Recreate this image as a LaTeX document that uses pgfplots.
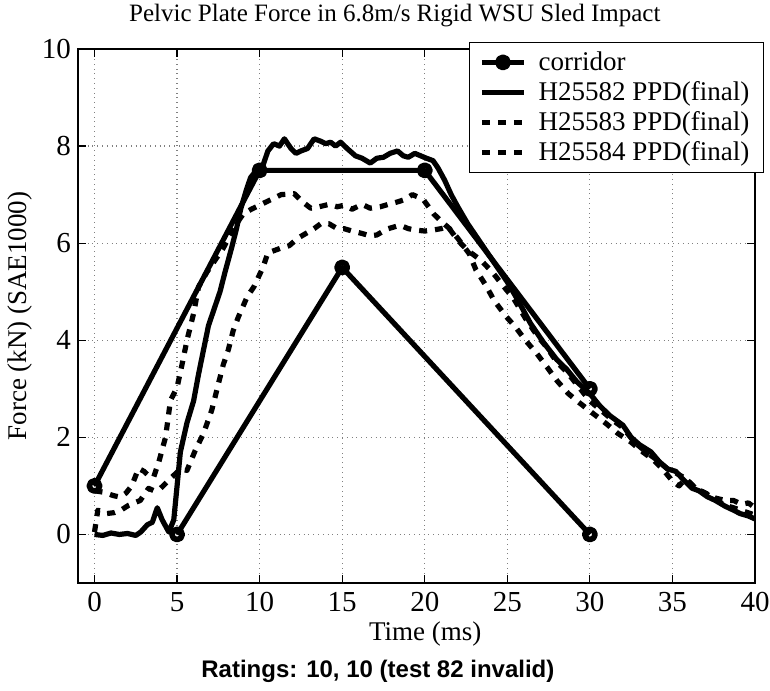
\documentclass[border=0pt]{standalone}
\usepackage{fontspec}
\setmainfont{Liberation Serif}
\newfontfamily\ratingfont{Liberation Sans}
\usepackage{pgfplots}
\pgfplotsset{compat=1.18}

\begin{document}
\begin{tikzpicture}
\useasboundingbox (-39pt,-53.5pt) rectangle (346pt,291.5pt);
\begin{axis}[
  at={(0,0)}, anchor=south west,
  scale only axis, width=338.5pt, height=267pt,
  xmin=-1, xmax=40, ymin=-1, ymax=10,
  xtick={0,5,...,40}, ytick={0,2,...,10},
  /pgf/number format/assume math mode=true,
  tick label style={font=\rmfamily\fontsize{14.5}{16}\selectfont},
  xticklabel style={anchor=base, yshift=-14pt},
  tick align=inside, major tick length=4pt,
  axis line style={line width=0.8pt}, every tick/.style={black, line width=0.6pt},
  grid=major, grid style={dotted, gray, line width=0.6pt},
  title={Pelvic Plate Force in 6.8m/s Rigid WSU Sled Impact},
  title style={at={(rel axis cs:0.468,1)}, anchor=base, yshift=7.5pt, font=\rmfamily\fontsize{12.5}{14}\selectfont},
  xlabel={Time (ms)},
  xlabel style={at={(rel axis cs:0.513,0)}, anchor=base, yshift=-28.5pt, font=\rmfamily\fontsize{13.5}{15}\selectfont},
  ylabel={Force (kN) (SAE1000)},
  ylabel style={at={(rel axis cs:-0.0857,0.5)}, anchor=center, font=\rmfamily\fontsize{13.5}{15}\selectfont},
  legend style={at={(rel axis cs:1.013,1.013)}, anchor=north east, draw=black, line width=0.5pt,
    fill=white, font=\rmfamily\fontsize{13.5}{15}\selectfont, row sep=0pt, column sep=4pt,
    inner xsep=5pt, inner ysep=2.5pt},
  legend cell align=left,
  legend image code/.code={\draw[mark repeat=2, mark phase=2, #1] plot coordinates {(0pt,0pt) (10.5pt,0pt) (21pt,0pt)};},
  every axis plot/.append style={black, line width=2.6pt, line join=round},
]
% corridor
\addplot[black, mark=o, mark size=2.6pt, mark options={solid, line width=2.8pt}]
  coordinates {(0,1) (10,7.5) (20,7.5) (30,3)};
\addlegendentry{corridor}
\addplot[black, mark=o, mark size=2.6pt, mark options={solid, line width=2.8pt}, forget plot]
  coordinates {(5,0) (15,5.5) (30,0)};
% H25582
\addplot[black, no markers] coordinates {
(0,0) (0.5,-0.02) (1,0.03) (1.5,0) (2,0.02) (2.5,-0.02) (2.8,0.05) (3.2,0.2) (3.5,0.25) (3.8,0.55)
(4.1,0.3) (4.5,0.05) (4.8,0.3) (5.2,1.7) (5.6,2.3) (6.0,2.75) (6.3,3.3) (6.6,3.8) (6.9,4.3) (7.2,4.6)
(7.6,5.0) (7.9,5.4) (8.3,5.9) (8.6,6.3) (8.85,6.7) (9.2,7.1) (9.45,7.35) (9.8,7.5) (10.2,7.6) (10.5,7.9)
(10.85,8.05) (11.2,8.0) (11.5,8.15) (11.9,7.95) (12.2,7.85) (12.5,7.9) (12.9,7.95) (13.3,8.15) (13.7,8.1)
(14.0,8.05) (14.3,8.08) (14.6,8.0) (14.9,8.08) (15.3,7.95) (15.8,7.8) (16.2,7.75) (16.7,7.65) (17.1,7.75)
(17.5,7.77) (17.9,7.85) (18.35,7.9) (18.7,7.8) (19.0,7.77) (19.4,7.85) (19.75,7.8) (20.1,7.75) (20.5,7.7)
(20.8,7.55) (21.2,7.3) (21.6,7.0) (22.0,6.75) (22.6,6.4) (23.2,6.1) (23.8,5.8) (24.4,5.5) (25.0,5.2)
(25.6,4.85) (26.4,4.35) (27.2,3.95) (28.0,3.6) (28.6,3.4) (29.2,3.15) (30,2.9) (30.6,2.65) (31.2,2.45)
(32,2.25) (32.5,2.0) (33.0,1.85) (33.7,1.7) (34.2,1.5) (34.7,1.35) (35.2,1.3) (35.6,1.15) (36.2,0.95)
(36.6,0.9) (37.1,0.78) (37.6,0.7) (38.2,0.58) (38.7,0.5) (39.1,0.43) (39.6,0.38) (40,0.32)};
\addlegendentry{H25582 PPD(final)}
% H25583
\addplot[black, no markers, dash pattern=on 4pt off 4pt] coordinates {
(0,0.9) (0.55,0.87) (1.15,0.8) (1.55,0.77) (1.9,0.85) (2.25,1.0) (2.67,1.36) (3.0,1.3) (3.3,1.2) (3.58,1.18)
(3.9,1.5) (4.3,2.0) (4.6,2.76) (5.0,3.03) (5.3,3.5) (5.6,4.0) (6.0,4.55) (6.3,5.1) (6.8,5.4) (7.2,5.6)
(7.8,5.9) (8.4,6.3) (9.0,6.6) (9.5,6.7) (10.1,6.8) (10.7,6.9) (11.3,7.0) (12.1,7.02) (12.6,6.85) (13.1,6.72)
(13.6,6.75) (14.2,6.8) (14.7,6.75) (15.1,6.78) (15.6,6.7) (16.2,6.8) (16.7,6.72) (17.3,6.75) (17.8,6.8)
(18.35,6.85) (18.8,6.9) (19.25,7.0) (19.6,6.95) (19.95,6.88) (20.55,6.6) (21.0,6.45) (21.5,6.3) (22.0,6.1)
(22.7,5.78) (23.1,5.45) (23.7,5.13) (24.2,4.82) (24.9,4.5) (25.5,4.27) (26.1,4.0) (26.8,3.72) (27.4,3.45)
(28.0,3.17) (28.7,2.9) (29.3,2.73) (30.2,2.49) (31.0,2.28) (31.7,2.08) (32.5,1.9) (33.2,1.7) (33.8,1.55)
(34.4,1.35) (35.0,1.1) (35.4,1.0) (35.8,1.15) (36.4,0.95) (37.0,0.85) (37.6,0.75) (38.2,0.7) (38.7,0.7)
(39.2,0.62) (39.6,0.65) (40,0.55)};
\addlegendentry{H25583 PPD(final)}
% H25584
\addplot[black, no markers, dash pattern=on 4pt off 4pt] coordinates {
(0,0.05) (0.2,0.5) (0.73,0.43) (1.2,0.45) (1.6,0.5) (2.06,0.6) (2.4,0.65) (2.77,0.7) (3.27,0.95) (3.6,0.9)
(4.0,0.95) (4.6,1.15) (5.2,1.35) (5.6,1.32) (6.1,1.73) (6.6,2.08) (7.1,2.56) (7.5,3.1) (7.8,3.5) (8.1,3.8)
(8.4,4.2) (8.7,4.47) (9.25,4.9) (9.65,5.1) (10.2,5.5) (10.5,5.8) (11.3,5.9) (11.8,5.95) (12.3,6.1) (12.8,6.2)
(13.3,6.3) (13.7,6.4) (14.2,6.4) (14.7,6.3) (15.1,6.3) (15.6,6.25) (16.2,6.2) (16.7,6.15) (17.1,6.17)
(17.5,6.25) (17.8,6.3) (18.5,6.37) (19.0,6.3) (19.45,6.27) (20.0,6.25) (20.5,6.27) (21.0,6.3) (21.4,6.34)
(22.0,6.06) (22.6,5.85) (23.0,5.75) (23.4,5.65) (24.1,5.4) (24.8,5.1) (25.4,4.85) (26.1,4.45) (26.8,4.1)
(27.4,3.85) (28.0,3.55) (28.6,3.35) (29.3,3.05) (30,2.75) (30.7,2.55) (31.4,2.35) (32,2.2) (32.7,1.9)
(33.4,1.7) (34.0,1.55) (34.7,1.35) (35.3,1.25) (35.8,1.15) (36.4,0.95) (37.0,0.85) (37.6,0.72) (38.2,0.6)
(38.7,0.55) (39.3,0.48) (40,0.4)};
\addlegendentry{H25584 PPD(final)}
\coordinate (rt) at (rel axis cs:0.443,0);
\end{axis}
\node[anchor=base, font={\ratingfont\bfseries\fontsize{12}{14}\selectfont}, yshift=-47pt] at (rt) {Ratings: 10, 10 (test 82 invalid)};
\end{tikzpicture}
\end{document}
